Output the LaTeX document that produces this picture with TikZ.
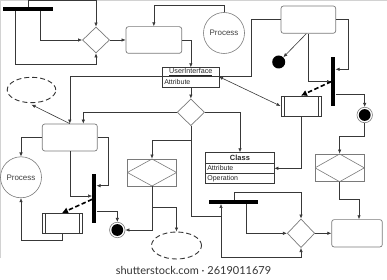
\documentclass[tikz,border=0pt]{standalone}
\usepackage{fontspec}
\setmainfont{Liberation Sans}
\newfontfamily\markfont{Lato}
\usepackage{tikz}
\usetikzlibrary{arrows.meta,positioning,shapes.geometric}
\definecolor{wire}{HTML}{383838}
\definecolor{outline}{HTML}{7A7A7A}
\definecolor{framegray}{HTML}{D2D2D2}
\tikzset {
    fork/.style={fill=black, minimum height=4pt, inner sep=0pt},
    vfork/.style={fill=black, minimum width=4pt, inner sep=0pt},
    action/.style={draw=outline, rounded corners=2.5pt, line width=0.7pt,
        minimum width=55pt, minimum height=27pt, inner sep=0pt},
    decision/.style={draw=outline, diamond, aspect=1, line width=0.7pt,
        minimum width=27.4pt, minimum height=26.7pt, inner sep=0pt},
    process/.style={draw=outline, circle, line width=0.6pt, minimum size=41pt,
        inner sep=0pt, text=black!75, font=\fontsize{8}{9}\selectfont},
    dot/.style={circle, fill=black, minimum size=13pt, inner sep=0pt},
    final/.style={circle, draw=outline, line width=0.6pt, minimum size=15.5pt,
        inner sep=0pt,
        path picture={\fill[black] (path picture bounding box.center) circle (5.9pt);}},
    subact/.style={draw=wire, line width=0.7pt, minimum width=40.3pt,
        minimum height=20pt, inner sep=0pt,
        path picture={\draw[wire, line width=0.6pt]
            ([xshift=3.2pt]path picture bounding box.north west) --
            ([xshift=3.2pt]path picture bounding box.south west)
            ([xshift=-3.2pt]path picture bounding box.north east) --
            ([xshift=-3.2pt]path picture bounding box.south east);}},
    choicebox/.style={draw=outline, line width=0.7pt, minimum width=49.3pt,
        minimum height=27.4pt, inner sep=0pt,
        path picture={\draw[outline, line width=0.6pt]
            (path picture bounding box.west) -- (path picture bounding box.north) --
            (path picture bounding box.east) -- (path picture bounding box.south) -- cycle;}},
    pending/.style={draw=black!80, ellipse, line width=0.9pt,
        dash pattern=on 5pt off 3pt, inner sep=0pt},
    classhead/.style={draw=wire, line width=0.7pt, inner sep=0pt, outer sep=0pt,
        text=black!85, font=\fontsize{7.2}{8}\selectfont},
    classrow/.style={draw=wire, line width=0.7pt, inner xsep=1.6pt, inner ysep=0pt,
        outer sep=0pt, text width=#1, align=left, minimum height=10pt,
        text=black!85, font=\fontsize{7}{8}\selectfont},
}

\begin{document}
\begin{tikzpicture}[x=1pt, y=-1pt,
        flow/.style={draw=wire, line width=0.6pt, -{Latex[length=4pt, width=3.4pt]}},
        twoway/.style={flow, {Latex[length=4pt, width=3.4pt]}-{Latex[length=4pt, width=3.4pt]}},
        signal/.style={draw=black, line width=1.6pt, dash pattern=on 4.5pt off 2.5pt,
            -{Latex[length=6pt, width=6.5pt]}},
    ]
    \useasboundingbox (0,0) rectangle (387,280);
    \draw[framegray, line width=0.6pt] (0.4,258) -- (0.4,0.4) -- (387,0.4);

    \node[fork, minimum width=50pt] (forkTop) at (28,9) {};
    \node[decision, minimum width=27pt, minimum height=26pt] (checkTop) at (96,40) {};
    \node[action, minimum width=55.7pt, minimum height=26.7pt] (taskTop) at (153.85,40) {};
    \node[process] (procTop) at (224,33) {Process};

    \node[classhead, minimum width=56.3pt, minimum height=9.4pt] (uiName)
        at (190.85,72) {\underline{UserInterface}};
    \node[classrow=53.1pt, minimum height=10.6pt, below=0pt of uiName] (uiAttr) {Attribute};
    \node[decision] (checkMid) at (190.85,112.3) {};

    \node[action, minimum width=54.7pt, minimum height=27.3pt] (taskTR) at (308.35,19.65) {};
    \node[dot] (dotTR) at (278.7,62) {};
    \node[vfork, minimum height=48.7pt] (forkRight) at (333.3,81.65) {};
    \node[subact] (subTR) at (301,106) {};
    \node[final] (endTR) at (364.7,115) {};
    \node[choicebox, minimum height=27.7pt] (choiceR) at (339.65,167.85) {};
    \node[action, minimum width=50.6pt, minimum height=27.4pt] (taskBR) at (357,233.3) {};

    \node[classhead, minimum width=68.6pt, minimum height=11pt,
        font=\bfseries\fontsize{7.5}{9}\selectfont] (classTitle) at (240,157.8) {Class};
    \node[classrow=65.4pt, below=0pt of classTitle] (classAttr) {Attribute};
    \node[classrow=65.4pt, below=0pt of classAttr] (classOp) {Operation};
    \node[fork, minimum width=48.7pt] (forkLow) at (233.35,201.7) {};
    \node[decision, minimum height=28.7pt] (checkLow) at (301,233.3) {};

    \node[action] (taskL) at (69.8,137.5) {};
    \node[pending, minimum width=48.6pt, minimum height=25.4pt] (stateTL) at (31.5,90) {};
    \node[process] (procL) at (21,177.3) {Process};
    \node[vfork, minimum height=48.7pt] (forkLeft) at (94.3,198.35) {};
    \node[subact] (subBL) at (62,223.3) {};
    \node[final] (endBL) at (117.3,230) {};
    \node[choicebox, minimum height=27pt] (choiceL) at (152,172.5) {};
    \node[pending, minimum width=50pt, minimum height=27pt] (stateB) at (176.5,245.5) {};

    \node[font=\markfont\fontsize{11}{13}\selectfont, text=black!80] (stockTag)
        at (193.5,270.5) {shutterstock.com · 2619011679};

    \draw[flow] (forkTop.north) -- ++(0,-6.3) -| (checkTop.north);
    \draw[flow] ([xshift=12.7pt]forkTop.south) |- (checkTop.west);
    \draw[flow] ([xshift=-13pt]forkTop.south) -- ++(0,53) -| (checkTop.south);
    \draw[flow] (checkTop) -- (taskTop);
    \draw[flow] (procTop.north) -- ++(0,-7) -| (taskTop.north);
    \draw[flow] (taskTop.east) -| (uiName.north);
    \draw[flow] (uiAttr.south) -- (checkMid.north);
    \draw[twoway] (uiName.south east) -- (subTR.west);
    \draw[flow] (taskTR.west) -- ++(-29.3,0) |- (uiName.south east)
        -- (uiName.south west) -| (taskL.north);

    \draw[flow] (checkMid.east) -| (classTitle.north);
    \draw[flow] (checkMid.west) -| ([xshift=13.5pt]taskL.north);
    \draw[flow] (checkMid.south) -- ++(0,14.3) -| (choiceL.north);
    \coordinate (loopLow) at (221,216);
    \draw[flow] (checkMid.south) |- (loopLow) -- (loopLow |- forkLow.south);
    \draw[flow] (loopLow) -- ++(0,41.7) -| (checkLow.south);
    \draw[flow] ([xshift=1pt]forkLow.north) -- ++(0,-7) -| (checkLow.north);
    \draw[flow] ([xshift=12.65pt]forkLow.south) |- (checkLow.west);
    \draw[flow] (checkLow) -- (taskBR);

    \draw[flow] ([xshift=-2pt]taskTR.south) -- (dotTR);
    \draw[flow] (taskTR.south) |- (forkRight.west);
    \draw[flow] (taskTR.east) -- ++(12,0) |- ([yshift=12.35pt]forkRight.east);
    \draw[signal] (forkRight.west) -- (subTR.north);
    \draw[flow] ([yshift=-12.65pt]forkRight.east) -| (endTR.north);
    \draw[flow] (endTR.south) -- ++(0,13.3) -| (choiceR.north);
    \draw[flow] (choiceR.south) -- ++(0,17.6) -| ([xshift=2pt]taskBR.north);
    \draw[flow] (subTR.south) |- (classAttr.east);

    \draw[flow] (taskL.north) -- ([yshift=-1.5pt]stateTL.south);
    \draw[flow] (taskL.west) -| (procL.north);
    \draw[flow] (taskL.east) -- ++(11,0) |- ([yshift=12.65pt]forkLeft.east);
    \draw[flow] (taskL.south) |- ([yshift=2.35pt]forkLeft.west);
    \draw[signal] ([yshift=-1pt]forkLeft.west) -- (subBL.north);
    \draw[flow] ([yshift=-12.65pt]forkLeft.east) -| (endBL.north);
    \draw[flow] (subBL.south) -- ++(0,6.7) -| (procL.south);
    \draw[flow] (choiceL.south) |- (endBL.east);
    \draw[flow] (choiceL.south) -- ++(0,20.7) -| (stateB.north);

\end{tikzpicture}
\end{document}
